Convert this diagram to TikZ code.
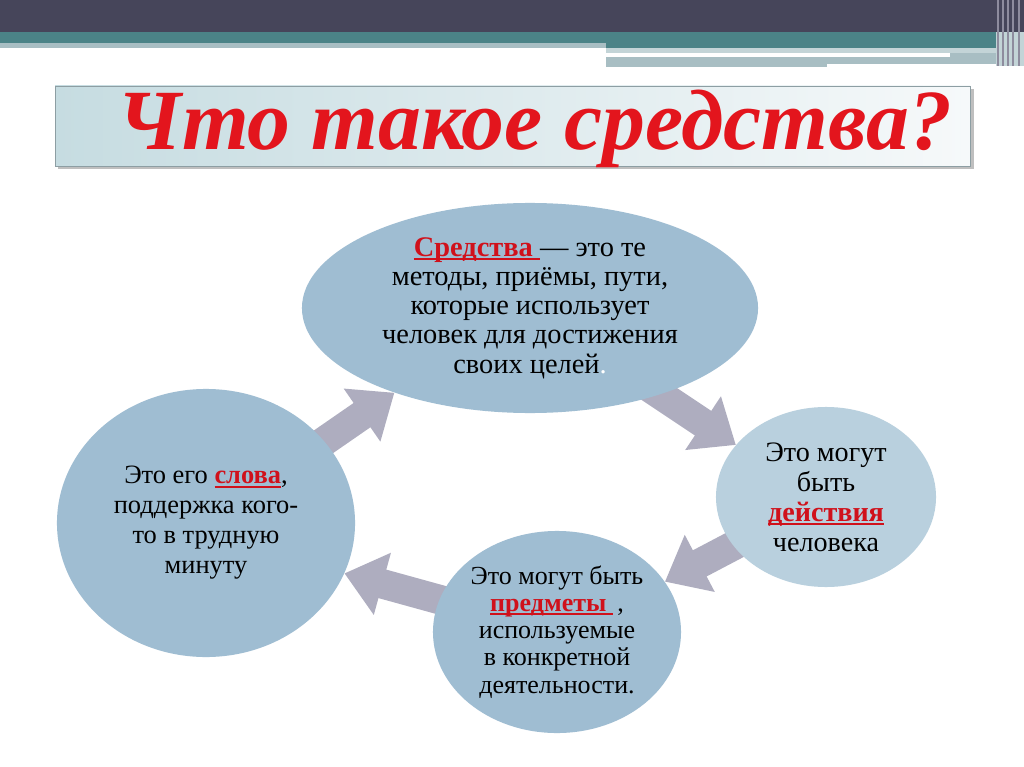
\documentclass[tikz,border=0pt]{standalone}
\usepackage{fontspec}
\setmainfont{Liberation Serif}
\usetikzlibrary{shapes.geometric,arrows.meta}
\pgfdeclarelayer{bg}
\pgfsetlayers{bg,main}
\definecolor{darkband}{HTML}{46455A}
\definecolor{tealband}{HTML}{4B8387}
\definecolor{lightband}{HTML}{A8BEC3}
\definecolor{paleband}{HTML}{C3D4D7}
\definecolor{stripe}{HTML}{8E8C9E}
\definecolor{ellA}{HTML}{9FBDD2}
\definecolor{ellB}{HTML}{B9D0DE}
\definecolor{arrowgray}{HTML}{AEADBF}
\definecolor{wordred}{HTML}{D0111B}
\definecolor{titlered}{HTML}{E3151D}
\definecolor{boxleft}{HTML}{C6DCE1}
\definecolor{boxright}{HTML}{F6F9FA}
\definecolor{boxedge}{HTML}{8D9EA3}
\newcommand{\redw}[1]{{\color{wordred}\bfseries\setbox0\hbox{#1}\rlap{\rule[-2.6pt]{\wd0}{1.4pt}}\box0}}
\begin{document}
\begin{tikzpicture}[x=0.025cm,y=-0.025cm,
  bubble/.style={ellipse, fill=ellA, draw=none, align=center, inner sep=0pt,
    font=\fontsize{20.2pt}{20.8pt}\selectfont},
  flow/.style={draw=arrowgray, line width=21pt, -{Triangle[length=28pt,width=44pt]}}]
\useasboundingbox (0,0) rectangle (1024,767);
\begin{pgfonlayer}{bg}
\fill[white] (0,0) rectangle (1024,767);
\end{pgfonlayer}
% top bands
\fill[darkband] (0,0) rectangle (1024,32);
\fill[tealband] (0,32) rectangle (1024,43);
\fill[tealband] (606,43) rectangle (1024,48);
\fill[lightband] (0,43) rectangle (606,48);
\fill[paleband] (606,48) rectangle (996,53);
\fill[white] (606,53) rectangle (950,57);
\fill[lightband] (950,53) rectangle (996,57);
\fill[lightband] (606,57) rectangle (827,67);
\fill[lightband] (827,57) rectangle (996,64);
\fill[paleband] (996,32) rectangle (1024,66);
\foreach \xx in {997,1002,1007,1012,1018}
  \fill[stripe] (\xx,0) rectangle ++(1.5,66);
% title box
\fill[black!25] (58,89) rectangle (974,169);
\shade[left color=boxleft, right color=boxright, draw=boxedge] (55,86) rectangle (970,166);
\node[anchor=base, text=titlered, font=\fontsize{61pt}{61pt}\selectfont\bfseries\itshape] (title) at (535,150) {Что такое средства?};
% ellipses
\node[bubble, minimum width=11.4cm, minimum height=5.25cm] (T) at (530,308)
  {\redw{Средства }— это те\\методы, приёмы, пути,\\которые использует\\человек для достижения\\своих целей{\color{white}.}};
\node[bubble, fill=ellB, minimum width=5.5cm, minimum height=4.5cm, font=\fontsize{20pt}{21.3pt}\selectfont] (R) at (826,497)
  {Это могут\\быть\\\redw{действия}\\человека};
\node[bubble, minimum width=6.2cm, minimum height=5.05cm, font=\fontsize{18.5pt}{19.3pt}\selectfont] (B) at (557,632)
  {Это могут быть\\\redw{предметы }\,,\\используемые\\в конкретной\\деятельности.};
\node[bubble, minimum width=7.45cm, minimum height=6.7cm, font=\fontsize{18.8pt}{21.3pt}\selectfont] (L) at (206,523)
  {Это его \redw{слова},\\поддержка кого-\\то в трудную\\минуту};
% arrows
\begin{pgfonlayer}{bg}
\draw[flow] (L.center) -- (T.212);
\draw[flow] (T.center) -- (R.150);
\draw[flow] (R.center) -- (B.25);
\draw[flow] (B.center) -- (L.340);
\end{pgfonlayer}
\end{tikzpicture}
\end{document}
